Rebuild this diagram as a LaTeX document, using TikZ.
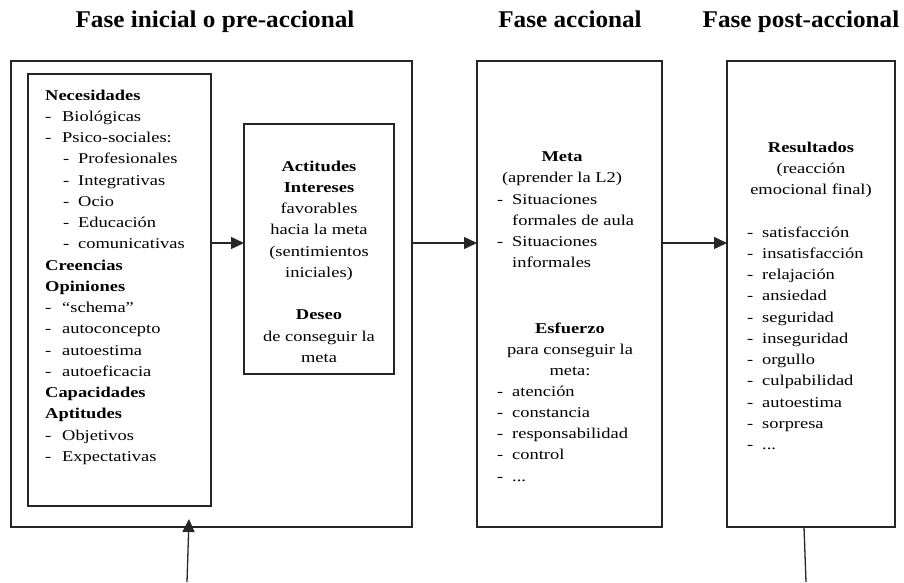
\documentclass[tikz,border=0pt]{standalone}
\usepackage{fontspec}
\setmainfont{Liberation Serif}[FakeStretch=1.23]
\newfontfamily\headfont{Liberation Serif}[FakeStretch=1.05]
\usetikzlibrary{arrows.meta}
\newcommand\dl[2][15pt]{\makebox[#1][l]{-}#2}
\newcommand\fs{\rule{0pt}{12pt}}
\begin{document}
\begin{tikzpicture}[x=1pt,y=-1pt,
  box/.style={draw=black!85, line width=1.3pt, inner sep=0pt, outer sep=0pt, anchor=north west},
  body/.style={inner sep=0pt, font=\fontsize{15}{21.24}\selectfont},
  tl/.style={body, anchor=north west, align=left},
  tc/.style={body, anchor=north, align=center},
  head/.style={font=\headfont\bfseries\fontsize{24}{28}\selectfont, anchor=base, inner sep=0pt},
  arr/.style={draw=black!85, line width=1.3pt, -{Triangle[length=13pt,width=12pt]}},
  ln/.style={draw=black!85, line width=1.3pt}]
\useasboundingbox (0,0) rectangle (904,582);
\fill[white] (0,0) rectangle (904,582);
% headings
\node[head] (h1) at (215,27) {Fase inicial o pre-accional};
\node[head] (h2) at (570,27) {Fase accional};
\node[head] (h3) at (801,27) {Fase post-accional};
% boxes
\node[box, minimum width=401pt, minimum height=466pt] (pre) at (11,61) {};
\node[box, minimum width=183pt, minimum height=432pt] (nec) at (28,74) {};
\node[box, minimum width=150pt, minimum height=250pt] (act) at (244,124) {};
\node[box, minimum width=185pt, minimum height=466pt] (meta) at (477,61) {};
\node[box, minimum width=168pt, minimum height=466pt] (res) at (727,61) {};
% texts
\node[tl] (tnec) at (45,88) {\fs\textbf{Necesidades}\\
\dl[17pt]{Biológicas}\\
\dl[17pt]{Psico-sociales:}\\
\hspace*{18pt}\dl{Profesionales}\\
\hspace*{18pt}\dl{Integrativas}\\
\hspace*{18pt}\dl{Ocio}\\
\hspace*{18pt}\dl{Educación}\\
\hspace*{18pt}\dl{comunicativas}\\
\textbf{Creencias}\\
\textbf{Opiniones}\\
\dl[17pt]{“schema”}\\
\dl[17pt]{autoconcepto}\\
\dl[17pt]{autoestima}\\
\dl[17pt]{autoeficacia}\\
\textbf{Capacidades}\\
\textbf{Aptitudes}\\
\dl[17pt]{Objetivos}\\
\dl[17pt]{Expectativas}};
\node[tc] (tact) at (319,159) {\fs\textbf{Actitudes}\\
\textbf{Intereses}\\
favorables\\
hacia la meta\\
(sentimientos\\
iniciales)\\
\mbox{}\\
\textbf{Deseo}\\
de conseguir la\\
meta};
\node[tc] (tmeta) at (562,149) {\fs\textbf{Meta}\\(aprender la L2)};
\node[tl] (tmetal) at (497,192) {\fs\dl{Situaciones}\\
\hspace*{15pt}formales de aula\\
\dl{Situaciones}\\
\hspace*{15pt}informales};
\node[tc] (tesf) at (570,321) {\fs\textbf{Esfuerzo}\\para conseguir la\\meta:};
\node[tl] (tesfl) at (497,384) {\fs\dl{atención}\\
\dl{constancia}\\
\dl{responsabilidad}\\
\dl{control}\\
\dl{...}};
\node[tc] (tres) at (811,140) {\fs\textbf{Resultados}\\(reacción\\emocional final)};
\node[tl] (tresl) at (747,225) {\fs\dl{satisfacción}\\
\dl{insatisfacción}\\
\dl{relajación}\\
\dl{ansiedad}\\
\dl{seguridad}\\
\dl{inseguridad}\\
\dl{orgullo}\\
\dl{culpabilidad}\\
\dl{autoestima}\\
\dl{sorpresa}\\
\dl{...}};
% connectors
\coordinate (ay) at (0,243);
\draw[arr] (nec.east |- ay) -- (act.west |- ay);
\draw[arr] (pre.east |- ay) -- (meta.west |- ay);
\draw[arr] (meta.east |- ay) -- (res.west |- ay);
\coordinate (b1) at (187,582);
\coordinate (b1tip) at (189,519);
\draw[arr] (b1) -- (b1tip);
\coordinate (b2) at (806,582);
\draw[ln] ([xshift=77pt]res.south west) -- (b2);
\end{tikzpicture}
\end{document}
